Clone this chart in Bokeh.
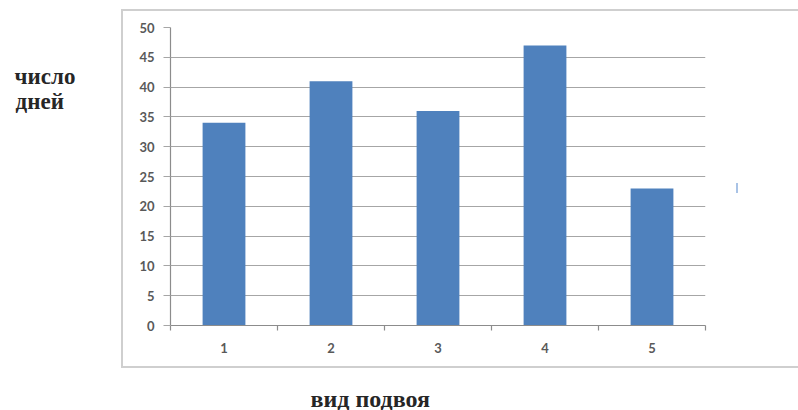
from bokeh.plotting import figure
from bokeh.models import Range1d, FixedTicker, Title, InlineStyleSheet
from bokeh.embed import file_html
from bokeh.resources import INLINE

categories = ["1", "2", "3", "4", "5"]
days = [34, 41, 36, 47, 23]
y_ticks = list(range(0, 51, 5))
y_title_lines = ["число", "дней\u00a0\u00a0"]
x_title = "вид подвоя"

positions = list(range(1, len(categories) + 1))
boundaries = [i + 0.5 for i in range(0, len(categories) + 1)]

GRID = "#a6a6a6"
AXIS = "#8c8c8c"
TICK_TXT = "#595959"
TITLE_FONT = "Liberation Serif"
TITLE_COLOR = "#262626"

p = figure(width=798, height=410, output_backend="svg", toolbar_location=None,
           x_range=Range1d(0.5, len(categories) + 0.5), y_range=Range1d(0, 50),
           min_border_left=170, min_border_right=93, min_border_top=27,
           min_border_bottom=85)
p.outline_line_color = None
p.background_fill_color = "white"
p.border_fill_color = "white"

p.vbar(x=positions, top=days, width=0.4, fill_color="#4F81BD", line_color=None)

# grid
p.xgrid.grid_line_color = None
p.ygrid.grid_line_color = GRID
p.ygrid.grid_line_width = 1.2
p.ygrid.ticker = FixedTicker(ticks=y_ticks)

# y axis
p.yaxis.ticker = FixedTicker(ticks=y_ticks)
p.yaxis.axis_line_color = AXIS
p.yaxis.axis_line_width = 1.2
p.yaxis.major_tick_line_color = GRID
p.yaxis.major_tick_line_width = 1.2
p.yaxis.major_tick_out = 7
p.yaxis.major_tick_in = 0
p.yaxis.minor_tick_line_color = None
p.yaxis.major_label_standoff = 9
p.yaxis.major_label_text_font = "Lato"
p.yaxis.major_label_text_font_style = "bold"
p.yaxis.major_label_text_font_size = "13px"
p.yaxis.major_label_text_color = TICK_TXT
# y title (horizontal, pushed upwards with trailing empty lines)
p.yaxis.axis_label = "\n".join(y_title_lines) + "\n" * 7
p.yaxis.axis_label_orientation = "horizontal"
p.yaxis.axis_label_standoff = 61
p.yaxis.axis_label_text_font = TITLE_FONT
p.yaxis.axis_label_text_font_style = "bold"
p.yaxis.axis_label_text_font_size = "23px"
p.yaxis.axis_label_text_line_height = 1.0
p.yaxis.axis_label_text_color = TITLE_COLOR

# x axis
p.xaxis.ticker = FixedTicker(ticks=positions, minor_ticks=boundaries)
p.xaxis.major_label_overrides = {pos: lab for pos, lab in zip(positions, categories)}
p.xaxis.axis_line_color = AXIS
p.xaxis.axis_line_width = 1.2
p.xaxis.major_tick_line_color = None
p.xaxis.major_tick_out = 0
p.xaxis.major_tick_in = 0
p.xaxis.minor_tick_line_color = AXIS
p.xaxis.minor_tick_line_width = 1.2
p.xaxis.minor_tick_out = 5
p.xaxis.minor_tick_in = 0
p.xaxis.major_label_standoff = 12
p.xaxis.major_label_text_font = "Lato"
p.xaxis.major_label_text_font_style = "bold"
p.xaxis.major_label_text_font_size = "13px"
p.xaxis.major_label_text_color = TICK_TXT

# bottom title (a blank spacer title pushes it towards the bottom edge)
p.add_layout(Title(text=" ", text_font_size="10px", standoff=19), "below")
p.add_layout(Title(text=x_title, align="left", offset=140, standoff=-8,
                   text_font=TITLE_FONT, text_font_style="bold",
                   text_font_size="24px", text_color=TITLE_COLOR), "below")

# outer chart-area frame and the small stray mark on the right
p.stylesheets = [InlineStyleSheet(css="""
:host::after {
  content: ""; position: absolute; box-sizing: border-box;
  left: 121px; top: 9px; width: 677px; height: 359px;
  border: 2px solid #cfcfcf; border-right: none;
  pointer-events: none;
}
:host::before {
  content: ""; position: absolute; z-index: 5;
  left: 736px; top: 183px; width: 2px; height: 10px;
  background: #a9c3e6; pointer-events: none;
}
""")]

open("out.html", "w").write(file_html(p, INLINE))
